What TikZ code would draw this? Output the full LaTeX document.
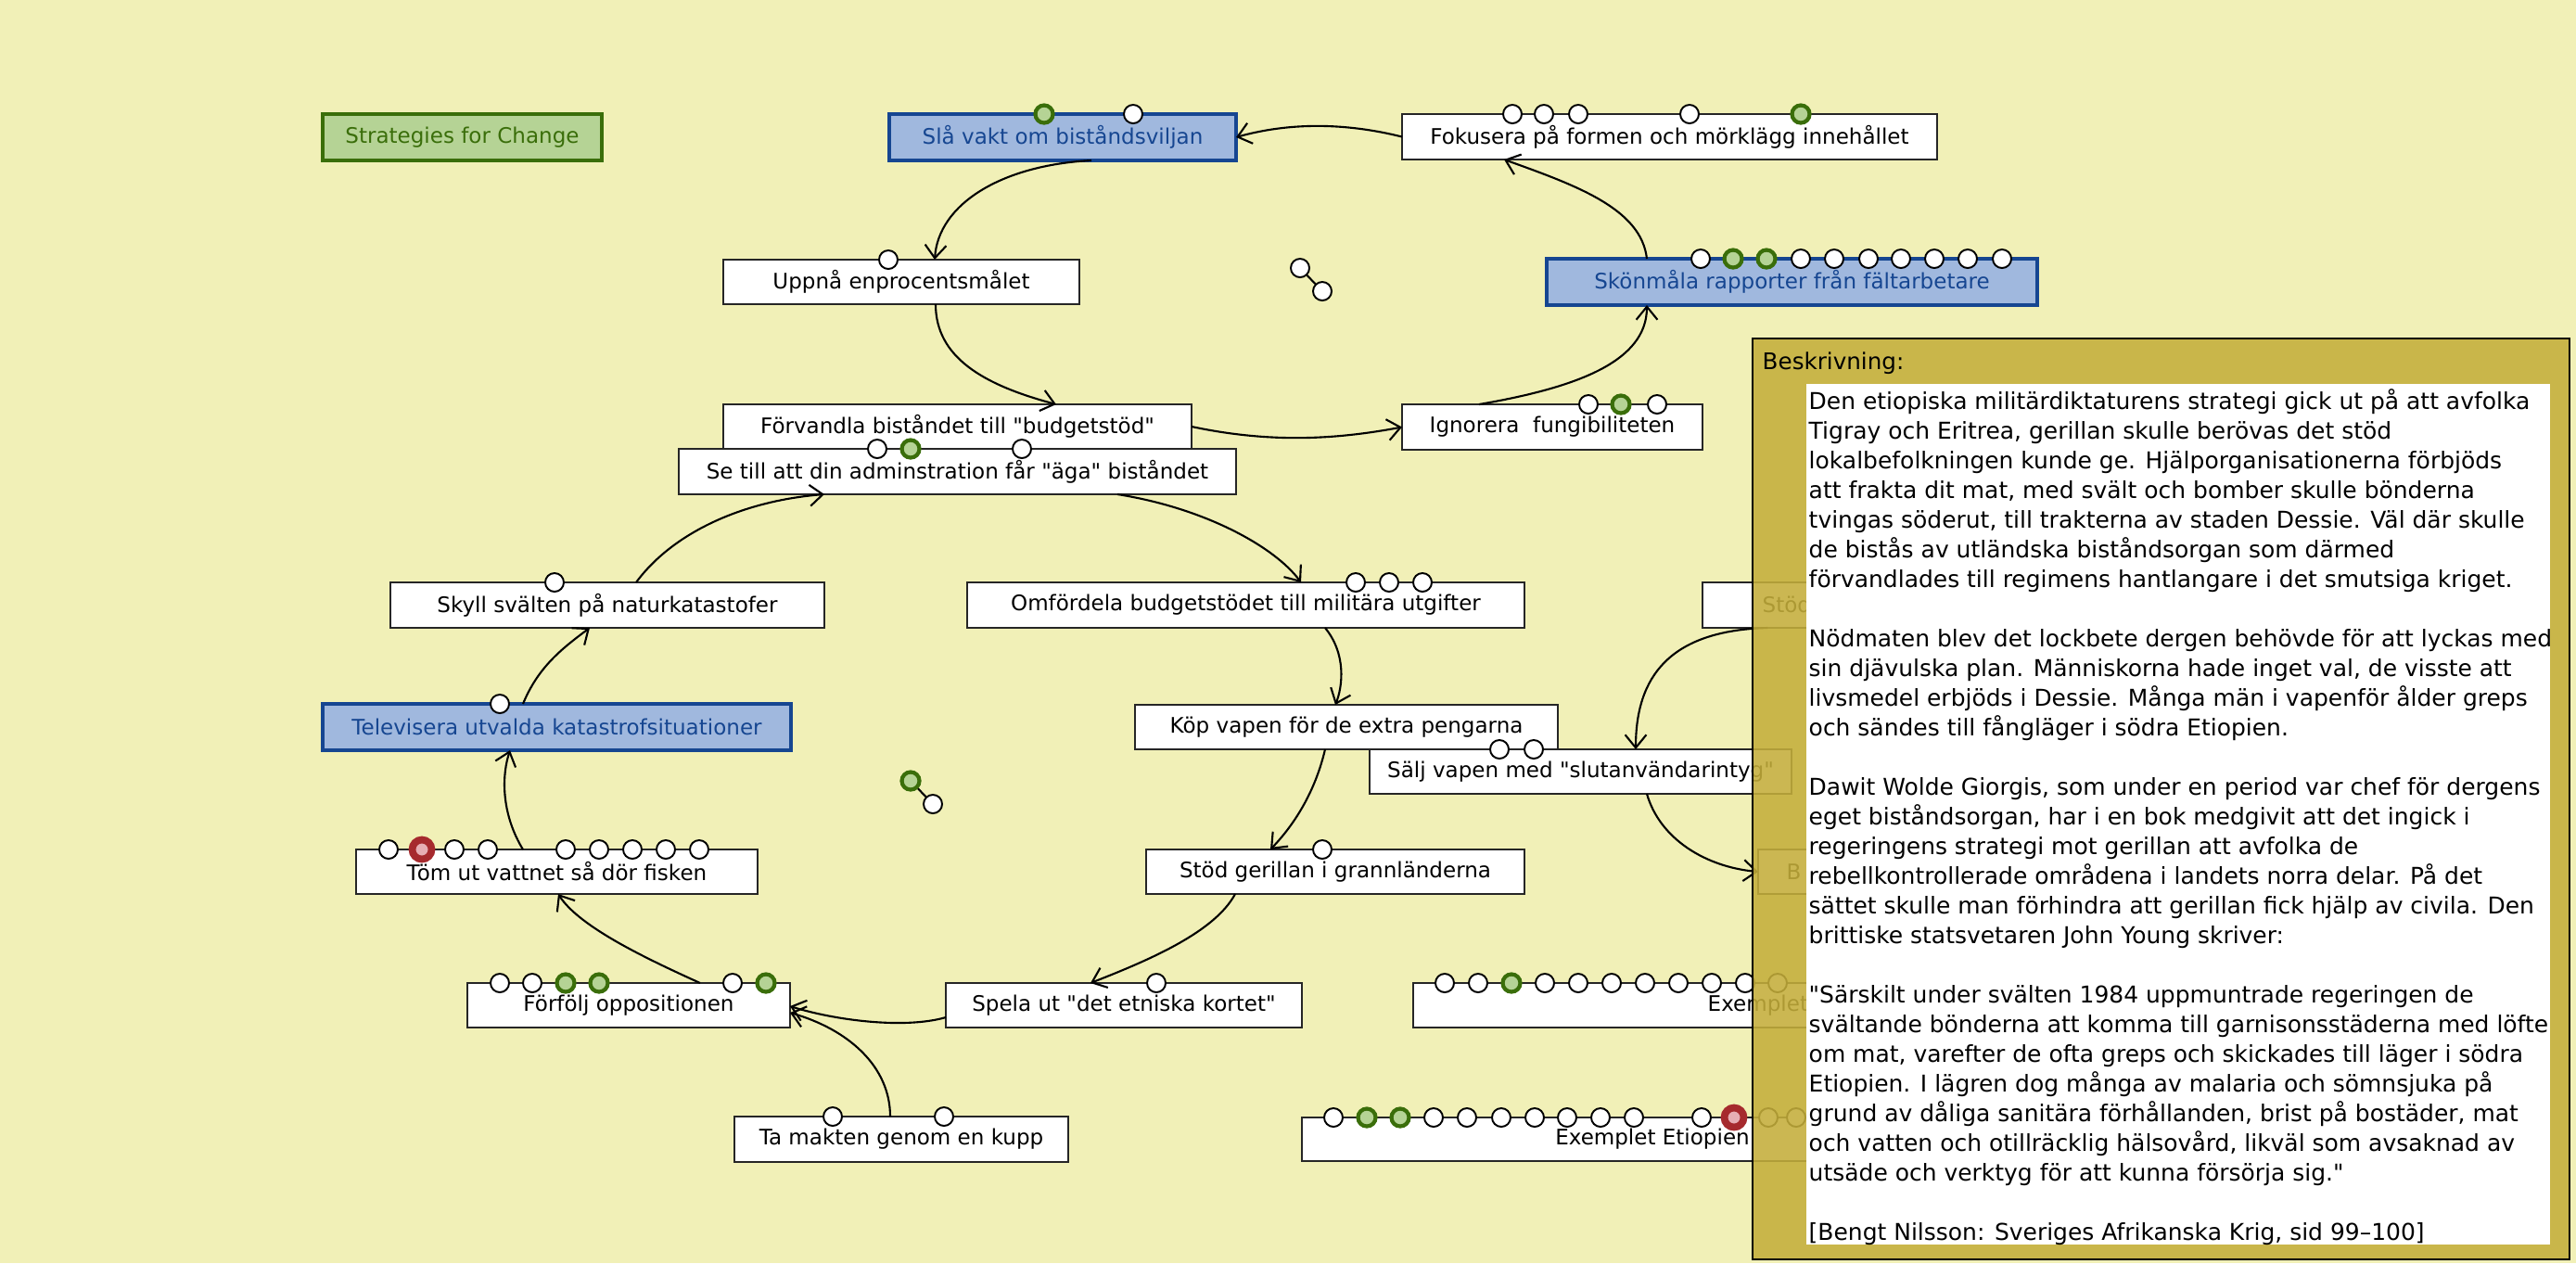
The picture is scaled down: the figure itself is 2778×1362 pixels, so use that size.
\documentclass[tikz,border=0pt]{standalone}
\usepackage{fontspec}
\setmainfont{DejaVu Sans}
\newfontfamily\plainfont{DejaVu Sans}
\usetikzlibrary{arrows.meta,calc}
\definecolor{bg}{HTML}{F1F0B7}
\definecolor{olive}{HTML}{C4AE3B}
\definecolor{bfill}{HTML}{A0B8DE}
\definecolor{bdraw}{HTML}{164691}
\definecolor{gfill}{HTML}{B5D395}
\definecolor{gdraw}{HTML}{3A6E0A}
\definecolor{rfill}{HTML}{E6AEB4}
\definecolor{rdraw}{HTML}{A62A2E}
\newcommand{\mkbox}[7]{\node[#1, minimum width={(#5-#3)*0.01cm}, minimum height={(#6-#4)*0.01cm}] (#2) at ({(#3+#5)/2},{(#4+#6)/2}) {#7};}
\newcommand{\mktabs}[3]{\foreach \px/\pk in {#3} {\node[tab\pk] (#1-\px) at (\px,#2) {};}}
\begin{document}
\begin{tikzpicture}[x=0.01cm,y=-0.01cm,
 every node/.style={font=\plainfont\fontsize{6.55pt}{7.5pt}\selectfont},
 box/.style={draw=black!85, fill=white, line width=0.6pt, inner sep=0pt, outer sep=0pt, text=black},
 bluebox/.style={draw=bdraw, fill=bfill, line width=1pt, inner sep=0pt, outer sep=0pt, text=bdraw},
 greenbox/.style={draw=gdraw, fill=gfill, line width=1pt, inner sep=0pt, outer sep=0pt, text=gdraw},
 tabw/.style={circle, draw=black, fill=white, line width=0.55pt, minimum size=0.2cm, inner sep=0pt},
 tabg/.style={circle, draw=gdraw, fill=gfill, line width=1.2pt, minimum size=0.19cm, inner sep=0pt},
 tabr/.style={circle, draw=rdraw, fill=rfill, line width=2.2pt, minimum size=0.21cm, inner sep=0pt},
 link/.style={line width=0.6pt, -{Straight Barb[length=4pt,width=6.5pt]}},
 lbl/.style={anchor=west, inner sep=0pt},
]
\fill[bg] (0,0) rectangle (2778,1362);
\useasboundingbox (0,0) rectangle (2778,1362);

% boxes
\mkbox{greenbox}{sfc}{348}{123}{649}{173}{Strategies for Change}
\mkbox{bluebox}{sla}{959}{123}{1333}{173}{Slå vakt om biståndsviljan}
\mkbox{box}{fok}{1512}{123}{2089}{172}{Fokusera på formen och mörklägg innehållet}
\mkbox{box}{upp}{780}{280}{1164}{328}{Uppnå enprocentsmålet}
\mkbox{bluebox}{sko}{1668}{279}{2197}{329}{Skönmåla rapporter från fältarbetare}
\mkbox{box}{forv}{780}{436}{1285}{484}{Förvandla biståndet till "budgetstöd"}
\mkbox{box}{setill}{732}{484}{1333}{533}{Se till att din adminstration får "äga" biståndet}
\mkbox{box}{ign}{1512}{436}{1836}{485}{Ignorera~ fungibiliteten}
\mkbox{box}{skyll}{421}{628}{889}{677}{Skyll svälten på naturkatastofer}
\mkbox{box}{omf}{1043}{628}{1644}{677}{Omfördela budgetstödet till militära utgifter}
\mkbox{box}{stodh}{1836}{628}{2160}{677}{}
\node[lbl] (stodh-lbl) at (1900,652) {Stöd};
\mkbox{bluebox}{tele}{348}{759}{853}{809}{Televisera utvalda katastrofsituationer}
\mkbox{box}{kop}{1224}{760}{1680}{808}{Köp vapen för de extra pengarna}
\mkbox{box}{salj}{1477}{808}{1932}{856}{Sälj vapen med "slutanvändarintyg"}
\mkbox{box}{stodg}{1236}{916}{1644}{964}{Stöd gerillan i grannländerna}
\mkbox{box}{bbox}{1896}{916}{2200}{964}{}
\node[lbl] (bbox-lbl) at (1926,940) {B};
\mkbox{box}{tom}{384}{916}{817}{964}{Töm ut vattnet så dör fisken}
\mkbox{box}{forf}{504}{1060}{852}{1108}{Förfölj oppositionen}
\mkbox{box}{spela}{1020}{1060}{1404}{1108}{Spela ut "det etniska kortet"}
\mkbox{box}{exa}{1524}{1060}{2200}{1108}{}
\node[lbl] (exa-lbl) at (1841,1084) {Exemplet};
\mkbox{box}{ta}{792}{1204}{1152}{1253}{Ta makten genom en kupp}
\mkbox{box}{exb}{1404}{1205}{2160}{1252}{Exemplet Etiopien}

% connectors
\draw[link] (fok.west) .. controls (1450,132) and (1390,132) .. (sla.east);
\draw[link] ($(sla.south west)+(218,0)$) .. controls (1080,178) and (1012,220) .. ($(upp.north west)+(228,0)$);
\draw[link] ($(upp.south west)+(229,0)$) .. controls (1009,385) and (1060,415) .. ($(forv.north west)+(359,0)$);
\draw[link] (forv.east) .. controls (1370,478) and (1440,474) .. (ign.west);
\draw[link] ($(ign.north west)+(83,0)$) .. controls (1700,418) and (1776,390) .. ($(sko.south west)+(108,0)$);
\draw[link] ($(sko.north west)+(108,0)$) .. controls (1770,225) and (1700,200) .. ($(fok.south west)+(110,0)$);
\draw[link] ($(setill.south west)+(473,0)$) .. controls (1300,548) and (1375,590) .. ($(omf.north west)+(360,0)$);
\draw[link] ($(omf.south west)+(386,0)$) .. controls (1452,705) and (1448,740) .. ($(kop.north west)+(216,0)$);
\draw[link] ($(kop.south west)+(205,0)$) .. controls (1418,855) and (1395,890) .. ($(stodg.north west)+(134,0)$);
\draw[link] ($(stodg.south west)+(96,0)$) .. controls (1310,1005) and (1240,1035) .. ($(spela.north west)+(156,0)$);
\draw[link] ($(spela.west)+(0,13)$) .. controls (975,1110) and (900,1100) .. ($(forf.east)+(0,1)$);
\draw[link] ($(ta.north west)+(168,0)$) .. controls (960,1150) and (915,1110) .. ($(forf.south east)+(0,-16)$);
\draw[link] ($(forf.north west)+(251,0)$) .. controls (700,1035) and (625,1000) .. ($(tom.south west)+(218,0)$);
\draw[link] ($(tom.north west)+(180,0)$) .. controls (542,880) and (540,840) .. ($(tele.south west)+(202,0)$);
\draw[link] ($(tele.north west)+(216,0)$) .. controls (580,720) and (605,700) .. ($(skyll.south west)+(215,0)$);
\draw[link] ($(skyll.north west)+(265,0)$) .. controls (725,575) and (800,540) .. ($(setill.south west)+(157,0)$);
\draw[link] ($(stodh.south west)+(70,0)$) .. controls (1800,680) and (1764,730) .. ($(salj.north west)+(287,0)$);
\draw[link] ($(salj.south west)+(299,0)$) .. controls (1790,905) and (1840,935) .. (bbox.west);

% tabs
\mktabs{sla}{123}{1126/g,1222/w}
\mktabs{fok}{123}{1631/w,1665/w,1702/w,1822/w,1942/g}
\mktabs{upp}{280}{958/w}
\mktabs{sko}{279}{1834/w,1869/g,1905/g,1942/w,1978/w,2015/w,2050/w,2086/w,2122/w,2159/w}
\mktabs{setill}{484}{946/w,982/g,1102/w}
\mktabs{ign}{436}{1713/w,1748/g,1787/w}
\mktabs{skyll}{628}{598/w}
\mktabs{omf}{628}{1462/w,1498/w,1534/w}
\mktabs{tele}{759}{539/w}
\mktabs{salj}{808}{1617/w,1654/w}
\mktabs{stodg}{916}{1426/w}
\mktabs{tom}{916}{419/w,455/r,490/w,526/w,610/w,646/w,682/w,718/w,754/w}
\mktabs{forf}{1060}{539/w,574/w,610/g,646/g,790/w,826/g}
\mktabs{spela}{1060}{1247/w}
\mktabs{ta}{1204}{898/w,1018/w}
\mktabs{exa}{1060}{1558/w,1594/w,1630/g,1666/w,1702/w,1738/w,1774/w,1810/w,1846/w,1882/w,1917/w}
\mktabs{exb}{1205}{1438/w,1474/g,1510/g,1546/w,1582/w,1619/w,1655/w,1690/w,1726/w,1762/w,1835/w,1870/r,1907/w,1937/w}

% loose pairs
\node[tabw] (ma) at (1402,289) {};
\node[tabw] (mb) at (1426,314) {};
\draw[line width=0.6pt] (ma) -- (mb);
\node[tabg] (mc) at (982,842) {};
\node[tabw] (md) at (1006,867) {};
\draw[line width=0.6pt] (mc) -- (md);

% description panel
\mkbox{draw=black, line width=0.7pt, fill=olive, fill opacity=0.88, inner sep=0pt, outer sep=0pt}{panel}{1890}{365}{2771}{1358}{}
\mkbox{fill=white, inner sep=0pt, outer sep=0pt}{descbg}{1948}{414}{2750}{1342}{}
\node[lbl, font=\plainfont\fontsize{7pt}{9pt}\selectfont] (beskr) at (1900,392) {Beskrivning:};
\node[anchor=north west, inner sep=0pt, align=left, font=\plainfont\fontsize{7.1pt}{9.1pt}\selectfont] (desc) at (1950,419) {%
Den etiopiska militärdiktaturens strategi gick ut på att avfolka\\
Tigray och Eritrea, gerillan skulle berövas det stöd\\
lokalbefolkningen kunde ge. Hjälporganisationerna förbjöds\\
att frakta dit mat, med svält och bomber skulle bönderna\\
tvingas söderut, till trakterna av staden Dessie. Väl där skulle\\
de bistås av utländska biståndsorgan som därmed\\
förvandlades till regimens hantlangare i det smutsiga kriget.\\[9.1pt]
Nödmaten blev det lockbete dergen behövde för att lyckas med\\
sin djävulska plan. Människorna hade inget val, de visste att\\
livsmedel erbjöds i Dessie. Många män i vapenför ålder greps\\
och sändes till fångläger i södra Etiopien.\\[9.1pt]
Dawit Wolde Giorgis, som under en period var chef för dergens\\
eget biståndsorgan, har i en bok medgivit att det ingick i\\
regeringens strategi mot gerillan att avfolka de\\
rebellkontrollerade områdena i landets norra delar. På det\\
sättet skulle man förhindra att gerillan fick hjälp av civila. Den\\
brittiske statsvetaren John Young skriver:\\[9.1pt]
"Särskilt under svälten 1984 uppmuntrade regeringen de\\
svältande bönderna att komma till garnisonsstäderna med löfte\\
om mat, varefter de ofta greps och skickades till läger i södra\\
Etiopien. I lägren dog många av malaria och sömnsjuka på\\
grund av dåliga sanitära förhållanden, brist på bostäder, mat\\
och vatten och otillräcklig hälsovård, likväl som avsaknad av\\
utsäde och verktyg för att kunna försörja sig."\\[9.1pt]
[Bengt Nilsson: Sveriges Afrikanska Krig, sid 99–100]};
\end{tikzpicture}
\end{document}
